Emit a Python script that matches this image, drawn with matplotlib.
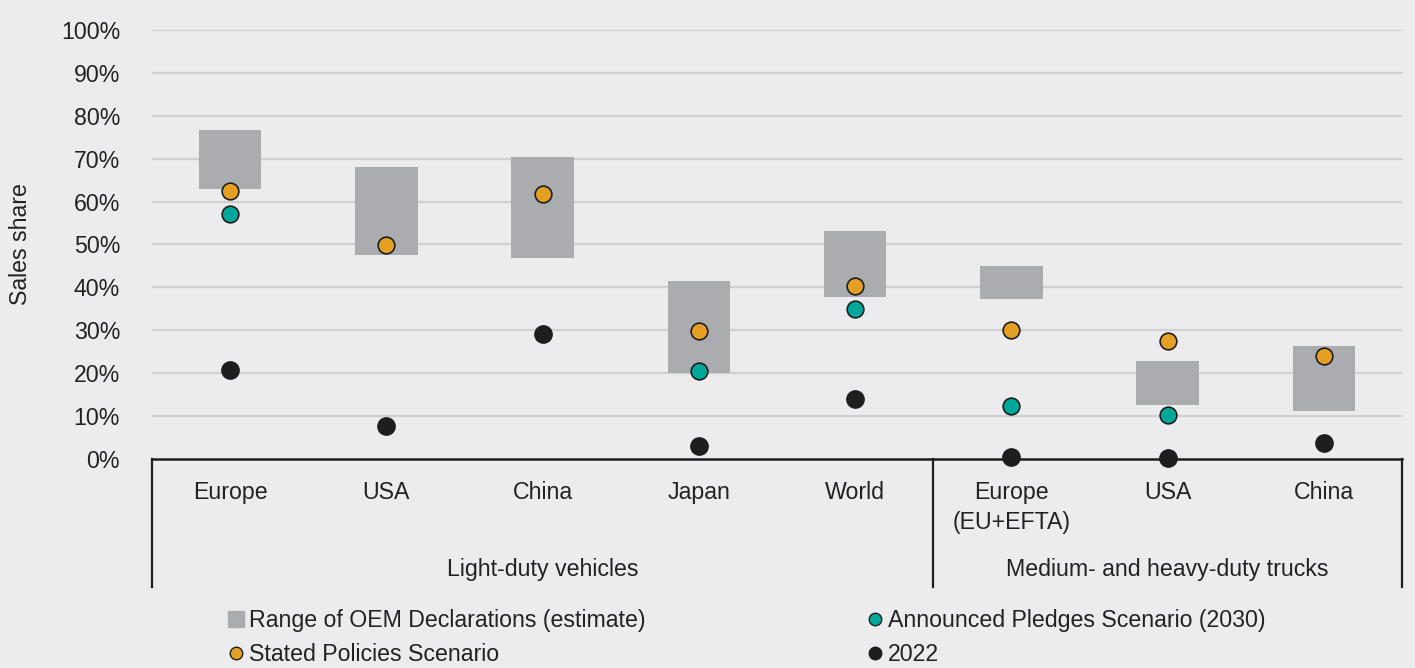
import numpy as np
import matplotlib.pyplot as plt
from matplotlib.lines import Line2D
import matplotlib.transforms as mtransforms

plt.rcParams['font.family'] = ['Liberation Sans', 'DejaVu Sans']

# categories and groups
regions = ["Europe", "USA", "China", "Japan", "World", "Europe\n(EU+EFTA)", "USA", "China"]
groups = ["Light-duty vehicles", "Medium- and heavy-duty trucks"]
group_sizes = [5, 3]

# range of OEM declarations (%)
oem_low = [62.9, 47.5, 46.9, 20.0, 37.8, 37.4, 12.7, 11.2]
oem_high = [76.7, 68.0, 70.4, 41.5, 53.1, 45.0, 22.8, 26.4]

# scenario values (%)
steps = [62.5, 49.9, 61.8, 29.8, 40.3, 30.1, 27.6, 24.0]
aps = [57.0, np.nan, np.nan, 20.5, 35.0, 12.4, 10.3, np.nan]
sales_2022 = [20.7, 7.7, 29.1, 3.0, 14.0, 0.5, 0.3, 3.8]

bg = "#ECECEE"
grey = "#ABACAF"
orange = "#E5A024"
teal = "#00A89A"
black = "#1E1E1E"
txt = "#222222"
fs = 16.7

fig = plt.figure(figsize=(14.15, 6.68), dpi=100, facecolor=bg)
ax = fig.add_axes([0.1074, 0.3129, 0.8834, 0.6422])
ax.set_facecolor(bg)

x = np.arange(len(regions))
low = np.array(oem_low) / 100
high = np.array(oem_high) / 100

ax.bar(x, high - low, bottom=low, width=0.4, color=grey, zorder=2)
ax.plot(x, np.array(steps) / 100, 'o', ms=12, mfc=orange, mec=black, mew=1.2, zorder=4, clip_on=False)
ax.plot(x, np.array(aps) / 100, 'o', ms=12, mfc=teal, mec=black, mew=1.2, zorder=4, clip_on=False)
ax.plot(x, np.array(sales_2022) / 100, 'o', ms=13.5, mfc=black, mec=black, mew=0, zorder=5, clip_on=False)

ax.set_xlim(-0.5, len(regions) - 0.5)
ax.set_ylim(0, 1)
yt = np.arange(0, 1.01, 0.1)
ax.set_yticks(yt)
ax.set_yticklabels([f"{int(round(v * 100))}%" for v in yt], fontsize=fs, color=txt)
ax.tick_params(axis='y', length=0, pad=23)
ax.set_xticks([])
for v in yt[1:]:
    ax.axhline(v, color="#D0D0D2", lw=1.6, zorder=1)

for s in ["top", "right", "left"]:
    ax.spines[s].set_visible(False)
ax.spines["bottom"].set_color(black)
ax.spines["bottom"].set_linewidth(1.8)
ax.spines["bottom"].set_zorder(3)

ax.set_ylabel("Sales share", fontsize=fs, color=txt, labelpad=20.5)

# category table below the axis
trans = mtransforms.blended_transform_factory(ax.transData, ax.transAxes)
bounds = [-0.5, group_sizes[0] - 0.5, len(regions) - 0.5]
for b in bounds:
    ax.add_line(Line2D([b, b], [0, -0.2984], transform=trans, color=black, lw=1.6, clip_on=False))

for i, name in enumerate(regions):
    ax.text(i, -0.052, name, transform=trans, ha='center', va='top', fontsize=fs,
            color=txt, linespacing=1.35)

start = 0
for g, n in zip(groups, group_sizes):
    ax.text(start + (n - 1) / 2, -0.2565, g, transform=trans, ha='center', va='center',
            fontsize=fs, color=txt)
    start += n

handles = [
    Line2D([], [], marker='s', ls='none', ms=11, mfc=grey, mec=grey),
    Line2D([], [], marker='o', ls='none', ms=9, mfc=orange, mec=black, mew=1),
    Line2D([], [], marker='o', ls='none', ms=9, mfc=teal, mec=black, mew=1),
    Line2D([], [], marker='o', ls='none', ms=9, mfc=black, mec=black, mew=1),
]
labels = ["Range of OEM Declarations (estimate)", "Stated Policies Scenario",
          "Announced Pledges Scenario (2030)", "2022"]
fig.legend(handles, labels, ncol=2, loc='upper left', bbox_to_anchor=(0.162, 0.088), frameon=False,
           fontsize=fs, handlelength=0.6, handletextpad=0.25, columnspacing=9.6,
           labelspacing=0.45, borderaxespad=0, borderpad=0, labelcolor=txt)

fig.savefig("out.png", dpi=100, facecolor=bg)
